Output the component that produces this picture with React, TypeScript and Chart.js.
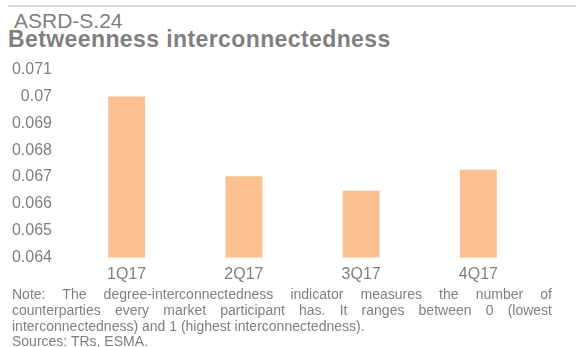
import React, { useEffect, useRef } from "react";
import { Chart, registerables } from "chart.js";

Chart.register(...registerables);

const categories = ["1Q17", "2Q17", "3Q17", "4Q17"];
const betweenness = [0.07, 0.06703, 0.06649, 0.06727];
const yTickLabels = ["0.064", "0.065", "0.066", "0.067", "0.068", "0.069", "0.07", "0.071"];
const yMin = 0.064;
const yMax = 0.071;
const yStep = 0.001;

const noteLines = [
  "Note: The degree-interconnectedness indicator measures the number of",
  "counterparties every market participant has. It ranges between 0 (lowest",
  "interconnectedness) and 1 (highest interconnectedness).",
  "Sources: TRs, ESMA.",
];

const FONT = "Arial, 'Liberation Sans', Helvetica, sans-serif";
const GREY = "#7f7f7f";

export default function App() {
  const canvasRef = useRef<HTMLCanvasElement | null>(null);

  useEffect(() => {
    const ctx = canvasRef.current;
    if (!ctx) return;
    const chart = new Chart(ctx, {
      type: "bar",
      data: {
        labels: categories,
        datasets: [
          {
            label: "Betweenness interconnectedness",
            data: betweenness,
            backgroundColor: "#FAC090",
            borderWidth: 0,
            categoryPercentage: 1,
            barPercentage: 0.315,
          },
        ],
      },
      options: {
        animation: false,
        responsive: false,
        maintainAspectRatio: false,
        layout: { padding: { top: 12.3, right: 39, bottom: 0, left: 0 } },
        plugins: {
          legend: { display: false },
          tooltip: { enabled: false },
          title: { display: false },
        },
        scales: {
          x: {
            grid: { display: false, drawTicks: false },
            border: { display: false },
            ticks: {
              color: GREY,
              font: { family: FONT, size: 16 },
              padding: 7,
              maxRotation: 0,
            },
            afterFit: (axis: any) => {
              axis.height = 32.5;
            },
          },
          y: {
            min: yMin,
            max: yMax,
            grid: { display: false, drawTicks: false },
            border: { display: false },
            ticks: {
              stepSize: yStep,
              color: GREY,
              font: { family: FONT, size: 16 },
              padding: 16,
              callback: (_v: any, i: number) => yTickLabels[i],
            },
            afterFit: (axis: any) => {
              axis.width = 68;
            },
          },
        },
      },
    });
    return () => chart.destroy();
  }, []);

  const justified: React.CSSProperties = {
    width: 540,
    textAlign: "justify",
    textAlignLast: "justify" as any,
    whiteSpace: "normal",
    height: 15.8,
  };

  return (
    <div
      style={{
        position: "fixed",
        left: 0,
        top: 0,
        width: 576,
        height: 347,
        background: "#fff",
        fontFamily: FONT,
        color: GREY,
        overflow: "hidden",
      }}
    >
      <div
        style={{
          position: "absolute",
          left: 8,
          top: 5,
          width: 568,
          height: 2,
          background: "#d9d9d9",
        }}
      />
      <div
        style={{
          position: "absolute",
          left: 14,
          top: 9.5,
          fontSize: 21,
          lineHeight: "21px",
          whiteSpace: "nowrap",
        }}
      >
        ASRD-S.24
      </div>
      <div
        style={{
          position: "absolute",
          left: 8,
          top: 27.5,
          fontSize: 23,
          lineHeight: "23px",
          fontWeight: "bold",
          letterSpacing: 0.4,
          whiteSpace: "nowrap",
        }}
      >
        Betweenness interconnectedness
      </div>
      <canvas
        ref={canvasRef}
        width={576}
        height={246}
        style={{ position: "absolute", left: 0, top: 44, width: 576, height: 246 }}
      />
      <div
        style={{
          position: "absolute",
          left: 12,
          top: 287,
          fontSize: 14,
          lineHeight: "15.8px",
        }}
      >
        <div style={justified}>{noteLines[0]}</div>
        <div style={justified}>{noteLines[1]}</div>
        <div style={{ whiteSpace: "nowrap" }}>{noteLines[2]}</div>
        <div style={{ whiteSpace: "nowrap" }}>{noteLines[3]}</div>
      </div>
    </div>
  );
}
